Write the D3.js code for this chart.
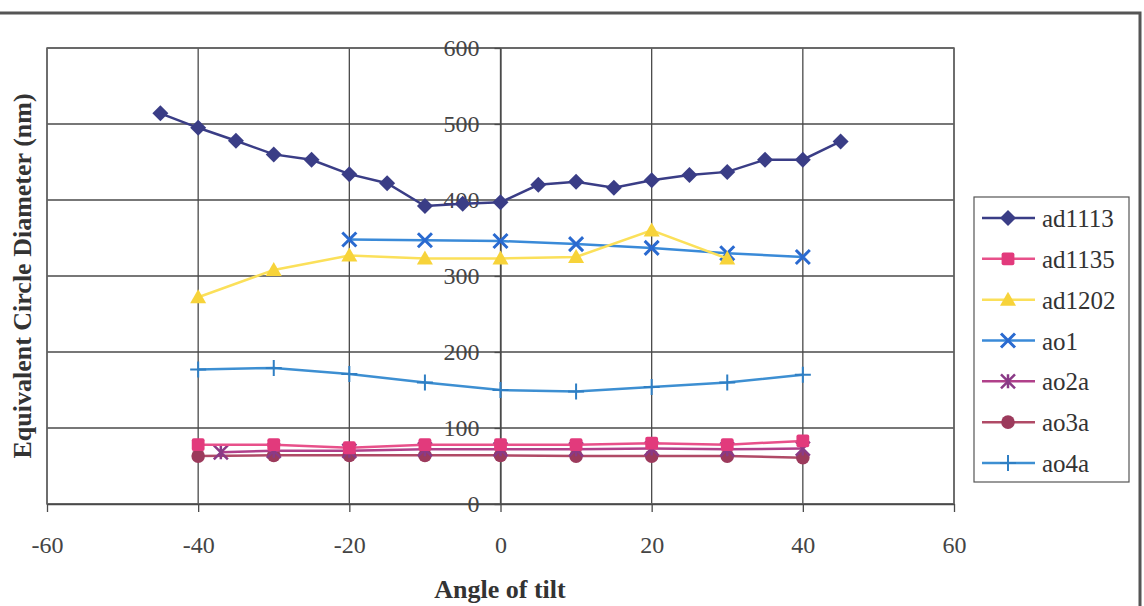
<!DOCTYPE html>
<html lang="en">
<head>
    <meta charset="UTF-8">
    <title>Equivalent Circle Diameter vs Angle of tilt</title>
    <script src="https://d3js.org/d3.v7.min.js"></script>
    <style>
        body { margin: 0; background: #fff; }
        text { font-family: "Liberation Serif", "DejaVu Serif", serif; }
    </style>
</head>
<body>
    <svg id="chart" width="1144" height="606"></svg>
    <script>
        // data
        const seriesNames = ["ad1113", "ad1135", "ad1202", "ao1", "ao2a", "ao3a", "ao4a"];

        const ad1113X = [-45, -40, -35, -30, -25, -20, -15, -10, -5, 0, 5, 10, 15, 20, 25, 30, 35, 40, 45];
        const ad1113Y = [514, 495, 478, 460, 453, 434, 422, 392, 395, 397, 420, 424, 416, 426, 433, 437, 453, 453, 477];

        const ad1135X = [-40, -30, -20, -10, 0, 10, 20, 30, 40];
        const ad1135Y = [78, 78, 74, 78, 78, 78, 80, 78, 83];

        const ad1202X = [-40, -30, -20, -10, 0, 10, 20, 30];
        const ad1202Y = [272, 308, 327, 323, 323, 325, 360, 323];

        const ao1X = [-20, -10, 0, 10, 20, 30, 40];
        const ao1Y = [348, 347, 346, 342, 337, 330, 325];

        const ao2aX = [-37, -30, -20, -10, 0, 10, 20, 30, 40];
        const ao2aY = [68, 70, 70, 72, 72, 72, 73, 72, 73];

        const ao3aX = [-40, -30, -20, -10, 0, 10, 20, 30, 40];
        const ao3aY = [63, 64, 64, 64, 64, 63, 63, 63, 61];

        const ao4aX = [-40, -30, -20, -10, 0, 10, 20, 30, 40];
        const ao4aY = [177, 179, 171, 160, 150, 148, 154, 160, 170];

        const xTicks = [-60, -40, -20, 0, 20, 40, 60];
        const yTicks = [0, 100, 200, 300, 400, 500, 600];

        const series = [
            {name: "ad1113", xs: ad1113X, ys: ad1113Y, color: "#3a3d86", line: "#3a3d86", marker: "diamond"},
            {name: "ad1135", xs: ad1135X, ys: ad1135Y, color: "#e23a7c", line: "#e8508a", marker: "square"},
            {name: "ad1202", xs: ad1202X, ys: ad1202Y, color: "#f7d33a", line: "#fbe05a", marker: "triangle"},
            {name: "ao1", xs: ao1X, ys: ao1Y, color: "#2a6ad0", line: "#3a8ad8", marker: "x"},
            {name: "ao2a", xs: ao2aX, ys: ao2aY, color: "#8a3a86", line: "#b0408a", marker: "star"},
            {name: "ao3a", xs: ao3aX, ys: ao3aY, color: "#9c3a5c", line: "#b04a66", marker: "circle"},
            {name: "ao4a", xs: ao4aX, ys: ao4aY, color: "#2f7fc4", line: "#3d8fd2", marker: "plus"}
        ];

        const svg = d3.select("#chart");

        // outer frame (top and right edges visible)
        svg.append("path")
            .attr("d", "M0,13H1140V606")
            .attr("fill", "none")
            .attr("stroke", "#555")
            .attr("stroke-width", 3);

        const plot = {left: 47, right: 954, top: 48, bottom: 504};

        const x = d3.scaleLinear().domain([-60, 60]).range([plot.left, plot.right]);
        const y = d3.scaleLinear().domain([0, 600]).range([plot.bottom, plot.top]);

        const g = svg.append("g");

        // gridlines
        g.append("g")
            .selectAll("line")
            .data(yTicks)
            .enter().append("line")
                .attr("x1", plot.left).attr("x2", plot.right)
                .attr("y1", d => y(d)).attr("y2", d => y(d))
                .attr("stroke", "#4a4a4a").attr("stroke-width", 1.3);

        g.append("g")
            .selectAll("line")
            .data(xTicks)
            .enter().append("line")
                .attr("y1", plot.top).attr("y2", plot.bottom)
                .attr("x1", d => x(d)).attr("x2", d => x(d))
                .attr("stroke", "#4a4a4a").attr("stroke-width", 1.3);

        g.append("rect")
            .attr("x", plot.left).attr("y", plot.top)
            .attr("width", plot.right - plot.left).attr("height", plot.bottom - plot.top)
            .attr("fill", "none").attr("stroke", "#666").attr("stroke-width", 1.5);

        // axes: y axis sits at x = 0, x axis at y = 0
        const xAxis = g.append("g")
            .attr("transform", `translate(0,${y(0)})`)
            .call(d3.axisBottom(x).tickValues(xTicks).tickFormat(d => String(d))
                .tickSize(8).tickPadding(24).tickSizeOuter(0));

        const yAxis = g.append("g")
            .attr("transform", `translate(${x(0)},0)`)
            .call(d3.axisLeft(y).tickValues(yTicks).tickFormat(d => String(d))
                .tickSize(6).tickPadding(15).tickSizeOuter(0));

        [xAxis, yAxis].forEach(a => {
            a.select(".domain").attr("stroke", "#4a4a4a").attr("stroke-width", 1.3);
            a.selectAll(".tick line").attr("stroke", "#4a4a4a").attr("stroke-width", 1.3);
            a.selectAll(".tick text")
                .attr("fill", "#444")
                .style("font-family", "'Liberation Serif', serif")
                .style("font-size", "24px");
        });

        // marker shapes
        function marker(sel, type, color, s) {
            if (type === "diamond") {
                sel.append("path").attr("d", `M0,${-s}L${s},0L0,${s}L${-s},0Z`).attr("fill", color);
            } else if (type === "square") {
                sel.append("rect").attr("x", -s * 0.8).attr("y", -s * 0.8)
                    .attr("width", s * 1.6).attr("height", s * 1.6).attr("rx", 2).attr("fill", color);
            } else if (type === "triangle") {
                sel.append("path").attr("d", `M0,${-s}L${s},${s * 0.75}L${-s},${s * 0.75}Z`).attr("fill", color);
            } else if (type === "circle") {
                sel.append("circle").attr("r", s * 0.85).attr("fill", color);
            } else if (type === "x") {
                sel.append("path").attr("d", `M${-s},${-s}L${s},${s}M${-s},${s}L${s},${-s}`)
                    .attr("stroke", color).attr("stroke-width", 3);
            } else if (type === "star") {
                sel.append("path").attr("d", `M${-s},${-s}L${s},${s}M${-s},${s}L${s},${-s}M0,${-s}V${s}`)
                    .attr("stroke", color).attr("stroke-width", 2.5);
            } else if (type === "plus") {
                sel.append("path").attr("d", `M0,${-s}V${s}M${-s},0H${s}`)
                    .attr("stroke", color).attr("stroke-width", 2);
            }
        }

        const markerSize = {diamond: 8, square: 8, triangle: 8, circle: 8, x: 7, star: 7, plus: 8};

        const line = d3.line().x(d => x(d[0])).y(d => y(d[1]));

        // draw so that ad1113 ends on top, like the reference
        series.slice().reverse().forEach(s => {
            const pts = s.xs.map((v, i) => [v, s.ys[i]]);
            const sg = g.append("g");
            sg.append("path")
                .datum(pts)
                .attr("d", line)
                .attr("fill", "none")
                .attr("stroke", s.line)
                .attr("stroke-width", 2.5);
            sg.selectAll("g.m")
                .data(pts)
                .enter().append("g")
                    .attr("class", "m")
                    .attr("transform", d => `translate(${x(d[0])},${y(d[1])})`)
                    .each(function() { marker(d3.select(this), s.marker, s.color, markerSize[s.marker]); });
        });

        // axis titles
        svg.append("text")
            .attr("x", 500).attr("y", 598)
            .attr("text-anchor", "middle")
            .attr("fill", "#333")
            .style("font-size", "26px").style("font-weight", "bold")
            .text("Angle of tilt");

        svg.append("text")
            .attr("transform", "translate(31,276) rotate(-90)")
            .attr("text-anchor", "middle")
            .attr("fill", "#333")
            .style("font-size", "26px").style("font-weight", "bold")
            .text("Equivalent Circle Diameter (nm)");

        // legend
        const legend = svg.append("g");
        legend.append("rect")
            .attr("x", 974).attr("y", 197).attr("width", 155).attr("height", 285)
            .attr("fill", "#fff").attr("stroke", "#555").attr("stroke-width", 1.2);

        const ly = d3.scalePoint().domain(seriesNames).range([218, 463]);

        series.forEach(s => {
            const row = legend.append("g").attr("transform", `translate(0,${ly(s.name)})`);
            row.append("line")
                .attr("x1", 982).attr("x2", 1035)
                .attr("stroke", s.line).attr("stroke-width", 2.5);
            const m = row.append("g").attr("transform", "translate(1008,0)");
            marker(m, s.marker, s.color, markerSize[s.marker]);
            row.append("text")
                .attr("x", 1042).attr("y", 9)
                .attr("fill", "#333")
                .style("font-size", "25px")
                .text(s.name);
        });
    </script>
</body>
</html>
